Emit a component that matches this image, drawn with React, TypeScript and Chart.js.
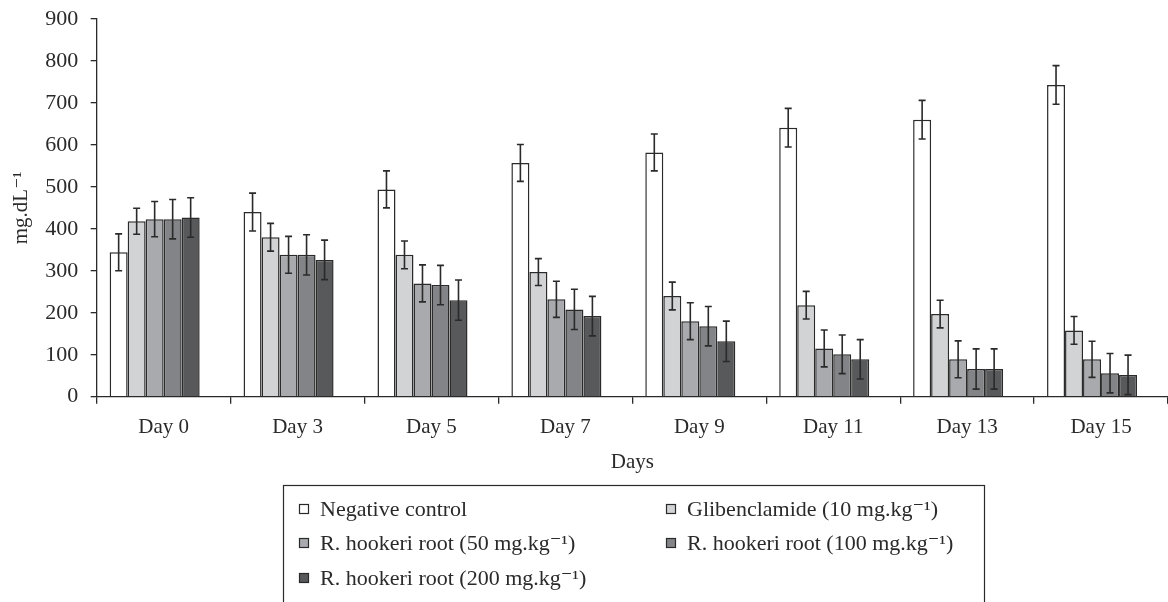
import React, { useEffect, useRef } from "react";
import { Chart, registerables } from "chart.js";
Chart.register(...registerables);

const categories = ["Day 0", "Day 3", "Day 5", "Day 7", "Day 9", "Day 11", "Day 13", "Day 15"];
const seriesLabels = [
  "Negative control",
  "Glibenclamide (10 mg.kg\u207B\u00B9)",
  "R. hookeri root (50 mg.kg\u207B\u00B9)",
  "R. hookeri root (100 mg.kg\u207B\u00B9)",
  "R. hookeri root (200 mg.kg\u207B\u00B9)",
];
const negativeControl = [344, 440, 494, 557, 582, 641, 660, 743];
const negativeControlErr = [44, 45, 44, 44, 44, 46, 46, 46];
const glibenclamide = [418, 380, 338, 297, 240, 218, 197, 158];
const glibenclamideErr = [31, 33, 33, 32, 33, 33, 33, 33];
const root50 = [423, 338, 270, 232, 180, 115, 89, 89];
const root50Err = [42, 44, 44, 43, 44, 44, 44, 43];
const root100 = [423, 338, 266, 208, 168, 101, 66, 56];
const root100Err = [47, 48, 47, 48, 47, 46, 48, 47];
const root200 = [427, 326, 230, 192, 132, 89, 66, 52];
const root200Err = [47, 47, 48, 47, 48, 47, 48, 47];
const yTicks = [0, 100, 200, 300, 400, 500, 600, 700, 800, 900];

const colors = ["#ffffff", "#d2d3d5", "#a9aaad", "#838487", "#58595b"];
const FONT = "'Liberation Serif', 'DejaVu Serif', serif";
const INK = "#2a2a2a";

export default function App() {
  const ref = useRef<HTMLCanvasElement>(null);
  useEffect(() => {
    const values = [negativeControl, glibenclamide, root50, root100, root200];
    const errs = [negativeControlErr, glibenclamideErr, root50Err, root100Err, root200Err];

    const errorBars = {
      id: "errorBars",
      afterDatasetsDraw(chart: any) {
        const ctx = chart.ctx;
        const y = chart.scales.y;
        ctx.save();
        ctx.strokeStyle = INK;
        ctx.lineWidth = 1.6;
        for (let d = 0; d < 5; d++) {
          const meta = chart.getDatasetMeta(d);
          meta.data.forEach((el: any, i: number) => {
            const v = values[d][i];
            const e = errs[d][i];
            const yt = y.getPixelForValue(v + e);
            const yb = y.getPixelForValue(Math.max(0, v - e));
            const x = el.x;
            const c = 3.5;
            ctx.beginPath();
            ctx.moveTo(x, yt);
            ctx.lineTo(x, yb);
            ctx.moveTo(x - c, yt);
            ctx.lineTo(x + c, yt);
            ctx.moveTo(x - c, yb);
            ctx.lineTo(x + c, yb);
            ctx.stroke();
          });
        }
        ctx.restore();
      },
    };

    const legendBox = {
      id: "legendBox",
      afterDraw(chart: any) {
        const ctx = chart.ctx;
        ctx.save();
        ctx.strokeStyle = INK;
        ctx.lineWidth = 1.2;
        ctx.strokeRect(283.5, 485.5, 701, 140);
        const pos = [
          [299, 509],
          [666, 509],
          [299, 543],
          [666, 543],
          [299, 578],
        ];
        ctx.font = `22px ${FONT}`;
        ctx.textBaseline = "middle";
        ctx.textAlign = "left";
        for (let i = 0; i < 5; i++) {
          const [x, yy] = pos[i];
          ctx.fillStyle = colors[i];
          ctx.fillRect(x, yy - 5, 10, 10);
          ctx.lineWidth = 1.2;
          ctx.strokeRect(x + 0.5, yy - 4.5, 9, 9);
          ctx.fillStyle = INK;
          ctx.fillText(seriesLabels[i], x + 21, yy + 1);
        }
        ctx.restore();
      },
    };

    const datasets: any[] = values.map((vals, i) => ({
      label: seriesLabels[i],
      data: vals,
      backgroundColor: colors[i],
      borderColor: INK,
      borderWidth: 1.5,
      barPercentage: 1,
      categoryPercentage: 0.8066,
    }));
    datasets.push({
      label: "",
      data: categories.map(() => null),
      backgroundColor: "rgba(0,0,0,0)",
      borderWidth: 0,
      barPercentage: 1,
      categoryPercentage: 0.8066,
    });

    const chart = new Chart(ref.current!, {
      type: "bar",
      data: { labels: categories, datasets },
      options: {
        animation: false,
        responsive: false,
        devicePixelRatio: 1,
        layout: { padding: { top: 19, right: 0, bottom: 127.4, left: 0 } },
        plugins: { legend: { display: false }, tooltip: { enabled: false } },
        scales: {
          x: {
            afterFit: (s: any) => {
              s.height = 77.9;
            },
            grid: {
              offset: true,
              drawOnChartArea: false,
              drawTicks: true,
              tickLength: 7,
              color: INK,
              lineWidth: 1.3,
            },
            border: { display: true, color: INK, width: 1.3 },
            ticks: { font: { family: FONT, size: 21 }, color: INK, padding: 10.7 },
            title: {
              display: true,
              text: "Days",
              font: { family: FONT, size: 21 },
              color: INK,
              padding: 0,
            },
          },
          y: {
            min: 0,
            max: 900,
            afterFit: (s: any) => {
              s.width = 96.7;
              s.paddingTop = 0;
              s.paddingBottom = 0;
            },
            afterBuildTicks: (s: any) => {
              s.ticks = yTicks.map((v) => ({ value: v }));
            },
            grid: {
              drawOnChartArea: false,
              drawTicks: true,
              tickLength: 6,
              color: INK,
              lineWidth: 1.3,
            },
            border: { display: true, color: INK, width: 1.3 },
            ticks: { font: { family: FONT, size: 22 }, color: INK, padding: 12.5 },
            title: {
              display: true,
              text: "mg.dL\u207B\u00B9",
              font: { family: FONT, size: 21 },
              color: INK,
              padding: { top: 9, bottom: 0 },
            },
          },
        },
      },
      plugins: [errorBars, legendBox],
    });
    return () => chart.destroy();
  }, []);
  return (
    <div style={{ position: "absolute", left: 0, top: 0, width: 1168, height: 602, background: "#fff" }}>
      <canvas ref={ref} width={1168} height={602} style={{ display: "block" }} />
    </div>
  );
}
